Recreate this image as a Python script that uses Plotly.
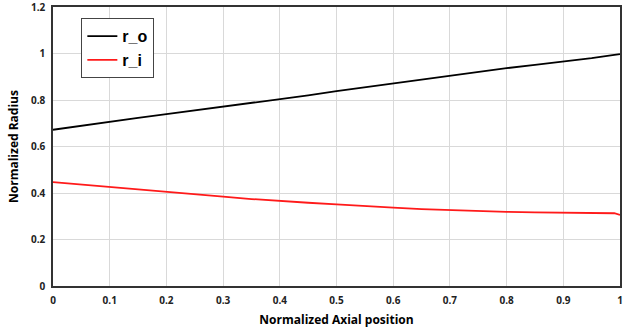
import plotly.graph_objects as go

x_pos = [0, 0.05, 0.1, 0.15, 0.2, 0.25, 0.3, 0.35, 0.4, 0.45, 0.5, 0.55, 0.6,
         0.65, 0.7, 0.75, 0.8, 0.85, 0.9, 0.95, 0.99, 1.0]
r_o = [0.672, 0.690, 0.708, 0.723, 0.739, 0.755, 0.770, 0.787, 0.805, 0.820,
       0.838, 0.855, 0.870, 0.887, 0.904, 0.920, 0.937, 0.951, 0.964, 0.980,
       0.994, 0.997]
r_i = [0.447, 0.436, 0.426, 0.416, 0.406, 0.395, 0.384, 0.374, 0.365, 0.358,
       0.351, 0.343, 0.337, 0.331, 0.326, 0.322, 0.319, 0.317, 0.315, 0.314,
       0.313, 0.306]

x_ticks = [0, 0.1, 0.2, 0.3, 0.4, 0.5, 0.6, 0.7, 0.8, 0.9, 1]
x_tick_labels = ["0", "0.1", "0.2", "0.3", "0.4", "0.5", "0.6", "0.7", "0.8", "0.9", "1"]
y_ticks = [0, 0.2, 0.4, 0.6, 0.8, 1, 1.2]
y_tick_labels = ["0", "0.2", "0.4", "0.6", "0.8", "1", "1.2"]

FONT = "Open Sans, Liberation Sans, Arial, sans-serif"

fig = go.Figure()
fig.add_trace(go.Scatter(x=x_pos, y=r_o, mode="lines", name="r_o",
                         line=dict(color="black", width=1.8)))
fig.add_trace(go.Scatter(x=x_pos, y=r_i, mode="lines", name="r_i",
                         line=dict(color="#ff1a1a", width=1.8)))

tick_font = dict(family=FONT, size=10, color="#222222")
fig.update_layout(
    width=628, height=331,
    margin=dict(l=53, r=8, t=7, b=45),
    paper_bgcolor="white", plot_bgcolor="white",
    showlegend=True,
    legend=dict(x=0.05, y=0.96, xanchor="left", yanchor="top",
                bgcolor="white", bordercolor="#444444", borderwidth=1,
                font=dict(family="Liberation Sans, Arial, sans-serif", size=16, color="black"),
                tracegroupgap=0, itemwidth=30),
    xaxis=dict(range=[0, 1], tickvals=x_ticks,
               ticktext=["<b>" + t + "</b>" for t in x_tick_labels],
               showgrid=True, gridcolor="#d9d9d9", gridwidth=1,
               showline=True, linecolor="#333333", linewidth=1.5, mirror=True,
               ticks="outside", ticklen=4, tickcolor="rgba(0,0,0,0)",
               tickfont=tick_font, zeroline=False, ticklabeloverflow="allow",
               automargin=False,
               title=dict(text="<b>Normalized Axial position</b>", standoff=10,
                          font=dict(family=FONT, size=12, color="black"))),
    yaxis=dict(range=[0, 1.2], tickvals=y_ticks,
               ticktext=["<b>" + t + "</b>" for t in y_tick_labels],
               showgrid=True, gridcolor="#d9d9d9", gridwidth=1,
               showline=True, linecolor="#333333", linewidth=1.5, mirror=True,
               ticks="outside", ticklen=4, tickcolor="rgba(0,0,0,0)",
               tickfont=tick_font, zeroline=False, ticklabeloverflow="allow",
               automargin=False,
               title=dict(text="<b>Normalized Radius</b>", standoff=10,
                          font=dict(family=FONT, size=12, color="black"))),
)
fig.for_each_trace(lambda t: t.update(name="<b>" + t.name + "</b>"))
fig.write_html("out.html")
